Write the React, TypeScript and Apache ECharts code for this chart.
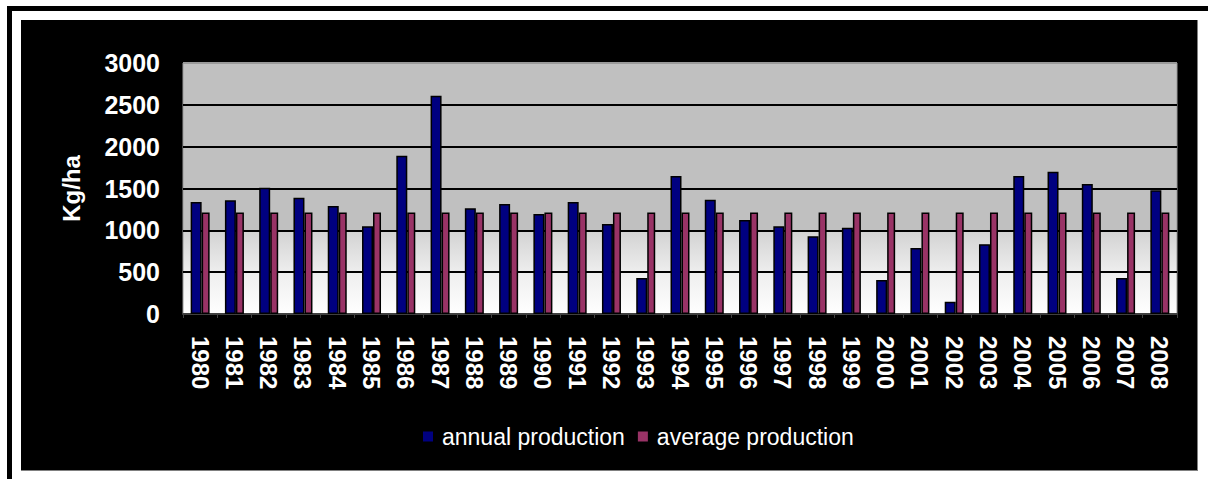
import React, { useEffect, useRef } from "react";
import * as echarts from "echarts";

// Yields per year, kg/ha
const years: string[] = [
  "1980", "1981", "1982", "1983", "1984", "1985", "1986", "1987", "1988", "1989",
  "1990", "1991", "1992", "1993", "1994", "1995", "1996", "1997", "1998", "1999",
  "2000", "2001", "2002", "2003", "2004", "2005", "2006", "2007", "2008",
];

const annualProduction: number[] = [
  1340, 1360, 1510, 1390, 1290, 1050, 1890, 2610, 1265, 1315,
  1195, 1340, 1075, 430, 1650, 1365, 1125, 1050, 930, 1030,
  405, 790, 145, 835, 1650, 1700, 1555, 430, 1480,
];

const averageValue = 1214;
const averageProduction: number[] = years.map(() => averageValue);

const yTicks = { min: 0, max: 3000, interval: 500 };

const FONT = "'Liberation Sans', Arial, sans-serif";

export default function App() {
  const ref = useRef<HTMLDivElement>(null);

  useEffect(() => {
    if (!ref.current) return;
    const chart = echarts.init(ref.current, undefined, { renderer: "svg" });
    chart.setOption({
      animation: false,
      backgroundColor: "#000000",
      textStyle: { fontFamily: FONT },
      grid: {
        left: 162,
        top: 43,
        right: 20,
        bottom: 156,
        show: true,
        borderColor: "#9a9a9a",
        borderWidth: 1,
        backgroundColor: {
          type: "linear",
          x: 0,
          y: 0,
          x2: 0,
          y2: 1,
          colorStops: [
            { offset: 0, color: "#c0c0c0" },
            { offset: 0.664, color: "#c0c0c0" },
            { offset: 0.668, color: "#d2d2d2" },
            { offset: 0.835, color: "#eeeeee" },
            { offset: 1, color: "#ffffff" },
          ],
        },
      },
      legend: {
        left: 402,
        top: 405,
        padding: 0,
        itemWidth: 10,
        itemHeight: 10,
        itemGap: 13,
        icon: "rect",
        itemStyle: { borderWidth: 0 },
        textStyle: {
          color: "#ffffff",
          fontSize: 23,
          fontFamily: FONT,
          padding: [0, 0, 0, 4],
        },
        data: ["annual production", "average production"],
      },
      xAxis: {
        type: "category",
        data: years,
        axisLine: { show: true, lineStyle: { color: "#404040", width: 2 } },
        axisTick: {
          show: true,
          alignWithLabel: false,
          length: 4,
          lineStyle: { color: "#404040", width: 1 },
        },
        axisLabel: {
          rotate: -90,
          margin: 22,
          color: "#ffffff",
          fontSize: 24,
          fontWeight: "bold",
          fontFamily: FONT,
          interval: 0,
          overflow: "none",
        },
      },
      yAxis: {
        type: "value",
        min: yTicks.min,
        max: yTicks.max,
        interval: yTicks.interval,
        name: "Kg/ha",
        nameLocation: "middle",
        nameRotate: 90,
        nameGap: 100,
        nameTextStyle: {
          color: "#ffffff",
          fontSize: 24,
          fontWeight: "bold",
          fontFamily: FONT,
        },
        axisLine: { show: false },
        axisTick: { show: false },
        axisLabel: {
          margin: 23,
          color: "#ffffff",
          fontSize: 25,
          fontWeight: "bold",
          fontFamily: FONT,
          formatter: (v: number) => String(v),
        },
        splitLine: {
          show: true,
          lineStyle: {
            color: ["#000", "#000", "#000", "#000", "#000", "#000", "#9a9a9a"],
            width: 2,
          },
        },
      },
      series: [
        {
          name: "annual production",
          type: "bar",
          data: annualProduction,
          barWidth: 11,
          barGap: "0%",
          itemStyle: { color: "#000080", borderColor: "#000000", borderWidth: 1.5 },
        },
        {
          name: "average production",
          type: "bar",
          data: averageProduction,
          barWidth: 8,
          barGap: "0%",
          itemStyle: { color: "#993366", borderColor: "#000000", borderWidth: 1.5 },
        },
      ],
    });
    return () => chart.dispose();
  }, []);

  return (
    <div
      style={{
        position: "fixed",
        left: 0,
        top: 0,
        width: 1208,
        height: 479,
        background: "#ffffff",
        overflow: "hidden",
      }}
    >
      <div style={{ position: "absolute", left: 7, top: 6, width: 1201, height: 5, background: "#000" }} />
      <div style={{ position: "absolute", left: 7, top: 6, width: 5, height: 473, background: "#000" }} />
      <div
        style={{
          position: "absolute",
          left: 21,
          top: 20,
          width: 1176,
          height: 450,
          borderRight: "1px solid #808080",
          borderBottom: "1px solid #808080",
        }}
      >
        <div ref={ref} style={{ width: 1176, height: 450 }} />
      </div>
    </div>
  );
}
